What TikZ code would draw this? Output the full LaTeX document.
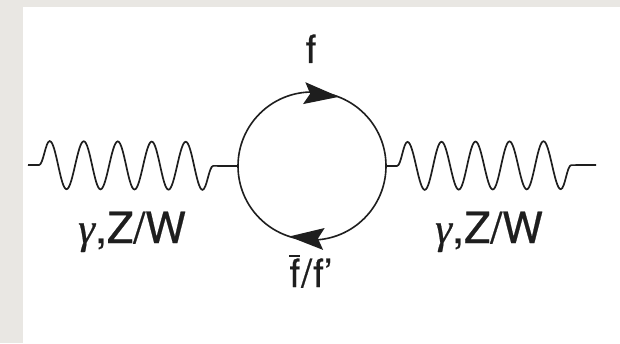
\documentclass[tikz,border=0pt]{standalone}
\usepackage{fontspec}
\setmainfont{TeX Gyre Heros}[FakeBold=0.5]
\newfontfamily\greekfont{Liberation Serif}[FakeBold=0.5]
\usetikzlibrary{decorations.pathmorphing}
\definecolor{paper}{RGB}{233,231,227}
\definecolor{ink}{RGB}{30,30,30}
\begin{document}
\begin{tikzpicture}[x=1pt, y=1pt,
		boson/.style={line width=1.7pt, ink, decorate, decoration={snake, segment length=34pt, amplitude=24pt, pre length=11pt, post length=11pt}},
		fermion/.style={line width=1.6pt, ink},
		headfill/.style={fill=ink},
		lab/.style={anchor=base, inner sep=0pt, text=ink, font=\fontsize{43}{48}\selectfont},
		flab/.style={anchor=base, inner sep=0pt, text=ink, font=\fontsize{39}{44}\selectfont}]
	\useasboundingbox (0,0) rectangle (620,343);
	% paper and white sheet
	\fill[paper] (0,0) rectangle (620,343);
	\fill[white] (23,0) rectangle (620,335.5);
	% vertices and free ends
	\coordinate (vl) at (238,177);
	\coordinate (vr) at (386,177);
	\coordinate (inl) at (28,178);
	\coordinate (outr) at (596,178);
	% gauge boson lines
	\draw[boson] (inl) -- (vl);
	\draw[boson] (vr) -- (outr);
	% fermion loop
	\draw[fermion] (vl) arc[start angle=180, end angle=0, radius=74];
	\draw[fermion] (vr) arc[start angle=0, end angle=-180, radius=74];
	% arrow heads on the loop
	\coordinate (tipf) at (338,246.3);
	\coordinate (tipfb) at (290,106.4);
	\fill[headfill, shift={(tipf)}, rotate=-6] (1,0) -- (-34,11) -- (-28,0) -- (-34,-11) -- cycle;
	\fill[headfill, shift={(tipfb)}, rotate=176] (1,0) -- (-34,11) -- (-28,0) -- (-34,-11) -- cycle;
	% labels
	\node[flab] (ftop) at (311,280) {f};
	\node[flab] (fbot) at (311,56) {\makebox[0pt][l]{\raisebox{30pt}{\rule{11pt}{1.7pt}}}f\kern1pt/\kern1pt f’};
	\node[lab] (gl) at (132,100) {{\greekfont\itshape γ},Z/W};
	\node[lab] (gr) at (489,100) {{\greekfont\itshape γ},Z/W};
\end{tikzpicture}
\end{document}
